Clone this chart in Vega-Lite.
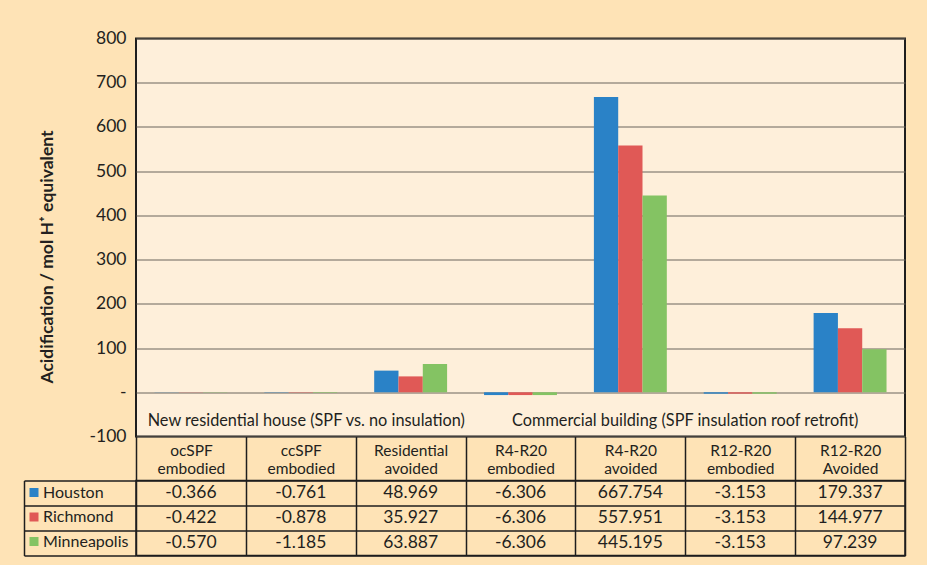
{
  "$schema": "https://vega.github.io/schema/vega-lite/v6.json",
  "background": "#FEE3B6",
  "padding": {"left": 22, "top": 28.5, "right": 20, "bottom": 10},
  "config": {
    "font": "Lato",
    "axis": {"labelFont": "Lato", "titleFont": "Lato", "labelColor": "#231f20", "titleColor": "#231f20"},
    "legend": {"labelFont": "Lato"},
    "text": {"font": "Lato"}
  },
  "datasets": {
    "bars": [
      {"cat": "ocSPF embodied", "city": "Houston", "value": -0.366},
      {"cat": "ocSPF embodied", "city": "Richmond", "value": -0.422},
      {"cat": "ocSPF embodied", "city": "Minneapolis", "value": -0.570},
      {"cat": "ccSPF embodied", "city": "Houston", "value": -0.761},
      {"cat": "ccSPF embodied", "city": "Richmond", "value": -0.878},
      {"cat": "ccSPF embodied", "city": "Minneapolis", "value": -1.185},
      {"cat": "Residential avoided", "city": "Houston", "value": 48.969},
      {"cat": "Residential avoided", "city": "Richmond", "value": 35.927},
      {"cat": "Residential avoided", "city": "Minneapolis", "value": 63.887},
      {"cat": "R4-R20 embodied", "city": "Houston", "value": -6.306},
      {"cat": "R4-R20 embodied", "city": "Richmond", "value": -6.306},
      {"cat": "R4-R20 embodied", "city": "Minneapolis", "value": -6.306},
      {"cat": "R4-R20 avoided", "city": "Houston", "value": 667.754},
      {"cat": "R4-R20 avoided", "city": "Richmond", "value": 557.951},
      {"cat": "R4-R20 avoided", "city": "Minneapolis", "value": 445.195},
      {"cat": "R12-R20 embodied", "city": "Houston", "value": -3.153},
      {"cat": "R12-R20 embodied", "city": "Richmond", "value": -3.153},
      {"cat": "R12-R20 embodied", "city": "Minneapolis", "value": -3.153},
      {"cat": "R12-R20 Avoided", "city": "Houston", "value": 179.337},
      {"cat": "R12-R20 Avoided", "city": "Richmond", "value": 144.977},
      {"cat": "R12-R20 Avoided", "city": "Minneapolis", "value": 97.239}
    ]
  },
  "resolve": {"legend": {"color": "independent"}},
  "bounds": "flush",
  "spacing": 44,
  "vconcat": [
    {
      "width": 769,
      "height": 398,
      "view": {"fill": "#FEEFDA", "stroke": "#1e1e1e", "strokeWidth": 2},
      "layer": [
        {
          "data": {"name": "bars"},
          "mark": {"type": "bar"},
          "encoding": {
            "x": {
              "field": "cat", "type": "nominal",
              "scale": {"domain": ["ocSPF embodied", "ccSPF embodied", "Residential avoided", "R4-R20 embodied", "R4-R20 avoided", "R12-R20 embodied", "R12-R20 Avoided"], "paddingInner": 0, "paddingOuter": 0},
              "axis": {
                "orient": "bottom", "title": null, "domain": false,
                "tickBand": "extent", "tickSize": 44, "tickColor": "#1e1e1e", "tickWidth": 1.5,
                "labelExpr": "split(datum.label, ' ')", "labelAngle": 0,
                "labelPadding": -37, "labelFontSize": 15.5, "labelLineHeight": 17.5
              }
            },
            "xOffset": {
              "field": "city", "type": "nominal",
              "scale": {"domain": ["Houston", "Richmond", "Minneapolis"], "paddingOuter": 0.76, "paddingInner": 0}
            },
            "y": {
              "field": "value", "type": "quantitative",
              "scale": {"domain": [-100, 800], "nice": false},
              "axis": {
                "values": [-100, 0, 100, 200, 300, 400, 500, 600, 700, 800],
                "labelExpr": "datum.value == 0 ? '-' : replace(datum.label, '−', '-')",
                "grid": true, "gridColor": "#6b645c", "gridWidth": 1,
                "ticks": false, "domain": false,
                "labelFontSize": 17.5, "labelPadding": 10,
                "title": "Acidification / mol H⁺ equivalent",
                "titleFontSize": 17.5, "titleFontWeight": "bold", "titlePadding": 33, "titleY": 218
              }
            },
            "color": {
              "field": "city", "type": "nominal",
              "scale": {"domain": ["Houston", "Richmond", "Minneapolis"], "range": ["#2a82c7", "#e05956", "#84c363"]},
              "legend": null
            }
          }
        },
        {
          "mark": {"type": "rule", "color": "#1e1e1e", "strokeWidth": 2},
          "encoding": {"y": {"datum": 0}}
        },
        {
          "data": {"values": [{"group": "New residential house (SPF vs. no insulation)", "anchor": "ccSPF embodied"}]},
          "mark": {"type": "text", "fontSize": 16.3, "color": "#231f20"},
          "encoding": {
            "x": {"field": "anchor", "type": "nominal", "bandPosition": 0.55},
            "y": {"datum": -65},
            "text": {"field": "group"}
          }
        },
        {
          "data": {"values": [{"group": "Commercial building (SPF insulation roof retrofit)", "anchor": "R12-R20 embodied"}]},
          "mark": {"type": "text", "fontSize": 16.3, "color": "#231f20"},
          "encoding": {
            "x": {"field": "anchor", "type": "nominal", "bandPosition": 0},
            "y": {"datum": -65},
            "text": {"field": "group"}
          }
        }
      ]
    },
    {
      "width": 769,
      "height": 75,
      "data": {"name": "bars"},
      "transform": [
        {"calculate": "replace(format(datum.value, '.3f'), '−', '-')", "as": "shown"}
      ],
      "view": {"fill": null, "stroke": "#1e1e1e", "strokeWidth": 1.5},
      "layer": [
        {
          "mark": {"type": "text", "fontSize": 17.5, "color": "#231f20"},
          "encoding": {
            "x": {
              "field": "cat", "type": "nominal",
              "scale": {"domain": ["ocSPF embodied", "ccSPF embodied", "Residential avoided", "R4-R20 embodied", "R4-R20 avoided", "R12-R20 embodied", "R12-R20 Avoided"], "paddingInner": 0, "paddingOuter": 0},
              "axis": {"orient": "top", "labels": false, "ticks": false, "domain": false, "grid": true, "tickBand": "extent", "gridColor": "#1e1e1e", "gridWidth": 1.5, "title": null}
            },
            "y": {
              "field": "city", "type": "nominal",
              "scale": {"domain": ["Houston", "Richmond", "Minneapolis"], "paddingInner": 0, "paddingOuter": 0},
              "axis": {"orient": "left", "labels": false, "offset": 112, "tickSize": -112, "tickBand": "extent", "tickColor": "#1e1e1e", "tickWidth": 1.5, "grid": true, "gridColor": "#1e1e1e", "gridWidth": 1.5, "domain": true, "domainColor": "#1e1e1e", "domainWidth": 1.5, "title": null}
            },
            "text": {"field": "shown", "type": "nominal"}
          }
        },
        {
          "mark": {"type": "square", "size": 0},
          "encoding": {
            "color": {
              "field": "city", "type": "nominal",
              "legend": {
                "orient": "none", "legendX": -110, "legendY": 4, "title": null,
                "symbolType": "square", "symbolSize": 81, "symbolStrokeWidth": 0, "symbolOpacity": 1,
                "labelFontSize": 16, "labelOffset": 1, "rowPadding": 8.5, "padding": 0, "labelColor": "#231f20"
              }
            }
          }
        }
      ]
    }
  ]
}
